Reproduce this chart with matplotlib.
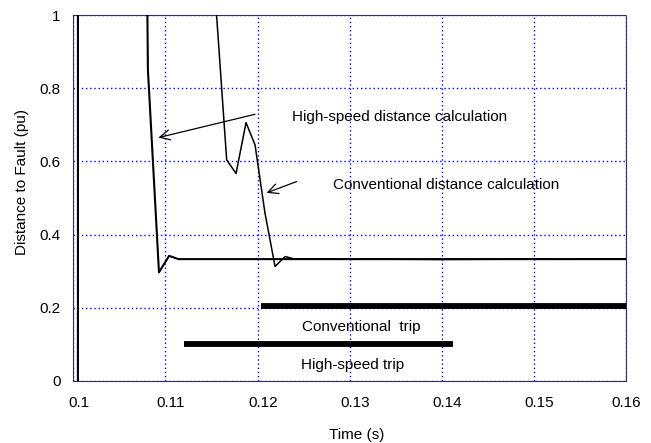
import matplotlib
matplotlib.use("Agg")
import matplotlib.pyplot as plt
from matplotlib.transforms import ScaledTranslation

# distance estimates (pu), time in s
hs_time = [0.1005, 0.1006, 0.1071, 0.1081, 0.1093, 0.1104, 0.1114, 0.1300, 0.1600]
hs_dist = [0.0, 40.0, 3.5, 0.85, 0.297, 0.342, 0.333, 0.333, 0.333]

conv_time = [0.1005, 0.1006, 0.1145, 0.11665, 0.11767, 0.11875, 0.11973, 0.1208,
             0.1219, 0.1230, 0.1239, 0.1400, 0.1600]
conv_dist = [0.0, 40.0, 1.38, 0.604, 0.567, 0.706, 0.645, 0.46,
             0.313, 0.340, 0.334, 0.332, 0.334]

# trip signals: (start, end, level)
conv_trip = (0.12038, 0.16, 0.206)
hs_trip = (0.11202, 0.14119, 0.101)

x_ticks = [0.1, 0.11, 0.12, 0.13, 0.14, 0.15, 0.16]
x_labels = ["0.1", "0.11", "0.12", "0.13", "0.14", "0.15", "0.16"]
y_ticks = [0, 0.2, 0.4, 0.6, 0.8, 1]
y_labels = ["0", "0.2", "0.4", "0.6", "0.8", "1"]

plt.rcParams['font.family'] = ['Liberation Sans', 'DejaVu Sans']
plt.rcParams['font.size'] = 11

fig = plt.figure(figsize=(6.51, 4.43), dpi=100)
ax = fig.add_axes([0.1126, 0.140, 0.8490, 0.8261])

ax.grid(True, color='#0000ff', linestyle=(0, (1, 2)), linewidth=1.0, zorder=0)
ax.set_axisbelow(True)

ax.plot(hs_time, hs_dist, color='black', lw=1.5, zorder=3)
ax.plot(conv_time, conv_dist, color='black', lw=1.1, zorder=3)

ax.plot([conv_trip[0], conv_trip[1]], [conv_trip[2], conv_trip[2]],
        color='black', lw=4.2, solid_capstyle='butt', zorder=3)
ax.plot([hs_trip[0], hs_trip[1]], [hs_trip[2], hs_trip[2]],
        color='black', lw=4.2, solid_capstyle='butt', zorder=3)

ax.text(0.1237, 0.7205, "High-speed distance calculation", ha='left', va='center')
ax.text(0.1282, 0.5355, "Conventional distance calculation", ha='left', va='center')
ax.text(0.1248, 0.148, "Conventional  trip", ha='left', va='center')
ax.text(0.12472, 0.0437, "High-speed trip", ha='left', va='center')

arrow_kw = dict(arrowstyle='->', lw=0.9, color='black', mutation_scale=18,
                shrinkA=0, shrinkB=0)
ax.annotate("", xy=(0.10924, 0.665), xytext=(0.11972, 0.7287), arrowprops=arrow_kw)
ax.annotate("", xy=(0.12098, 0.514), xytext=(0.12425, 0.545), arrowprops=arrow_kw)

ax.set_xlim(0.1, 0.16)
ax.set_ylim(0, 1)
ax.set_xticks(x_ticks)
ax.set_xticklabels(x_labels)
ax.set_yticks(y_ticks)
ax.set_yticklabels(y_labels)
ax.tick_params(length=0)
ax.tick_params(axis='y', pad=9)
ax.tick_params(axis='x', pad=11)

# tick labels in the original sit a little right of their grid line
# (except the last one, which stays on the right edge)
shift = ScaledTranslation(5.5 / 100, 0, fig.dpi_scale_trans)
for lbl in ax.get_xticklabels()[:-1]:
    lbl.set_transform(lbl.get_transform() + shift)

for s in ax.spines.values():
    s.set_color('#303060')
    s.set_linewidth(0.8)
    s.set_linestyle((0, (1, 1)))

ax.set_xlabel("Time (s)")
ax.xaxis.set_label_coords(0.513, -0.128)
ax.set_ylabel("Distance to Fault (pu)")
ax.yaxis.set_label_coords(-0.080, 0.545)

fig.savefig("out.png", dpi=100)
